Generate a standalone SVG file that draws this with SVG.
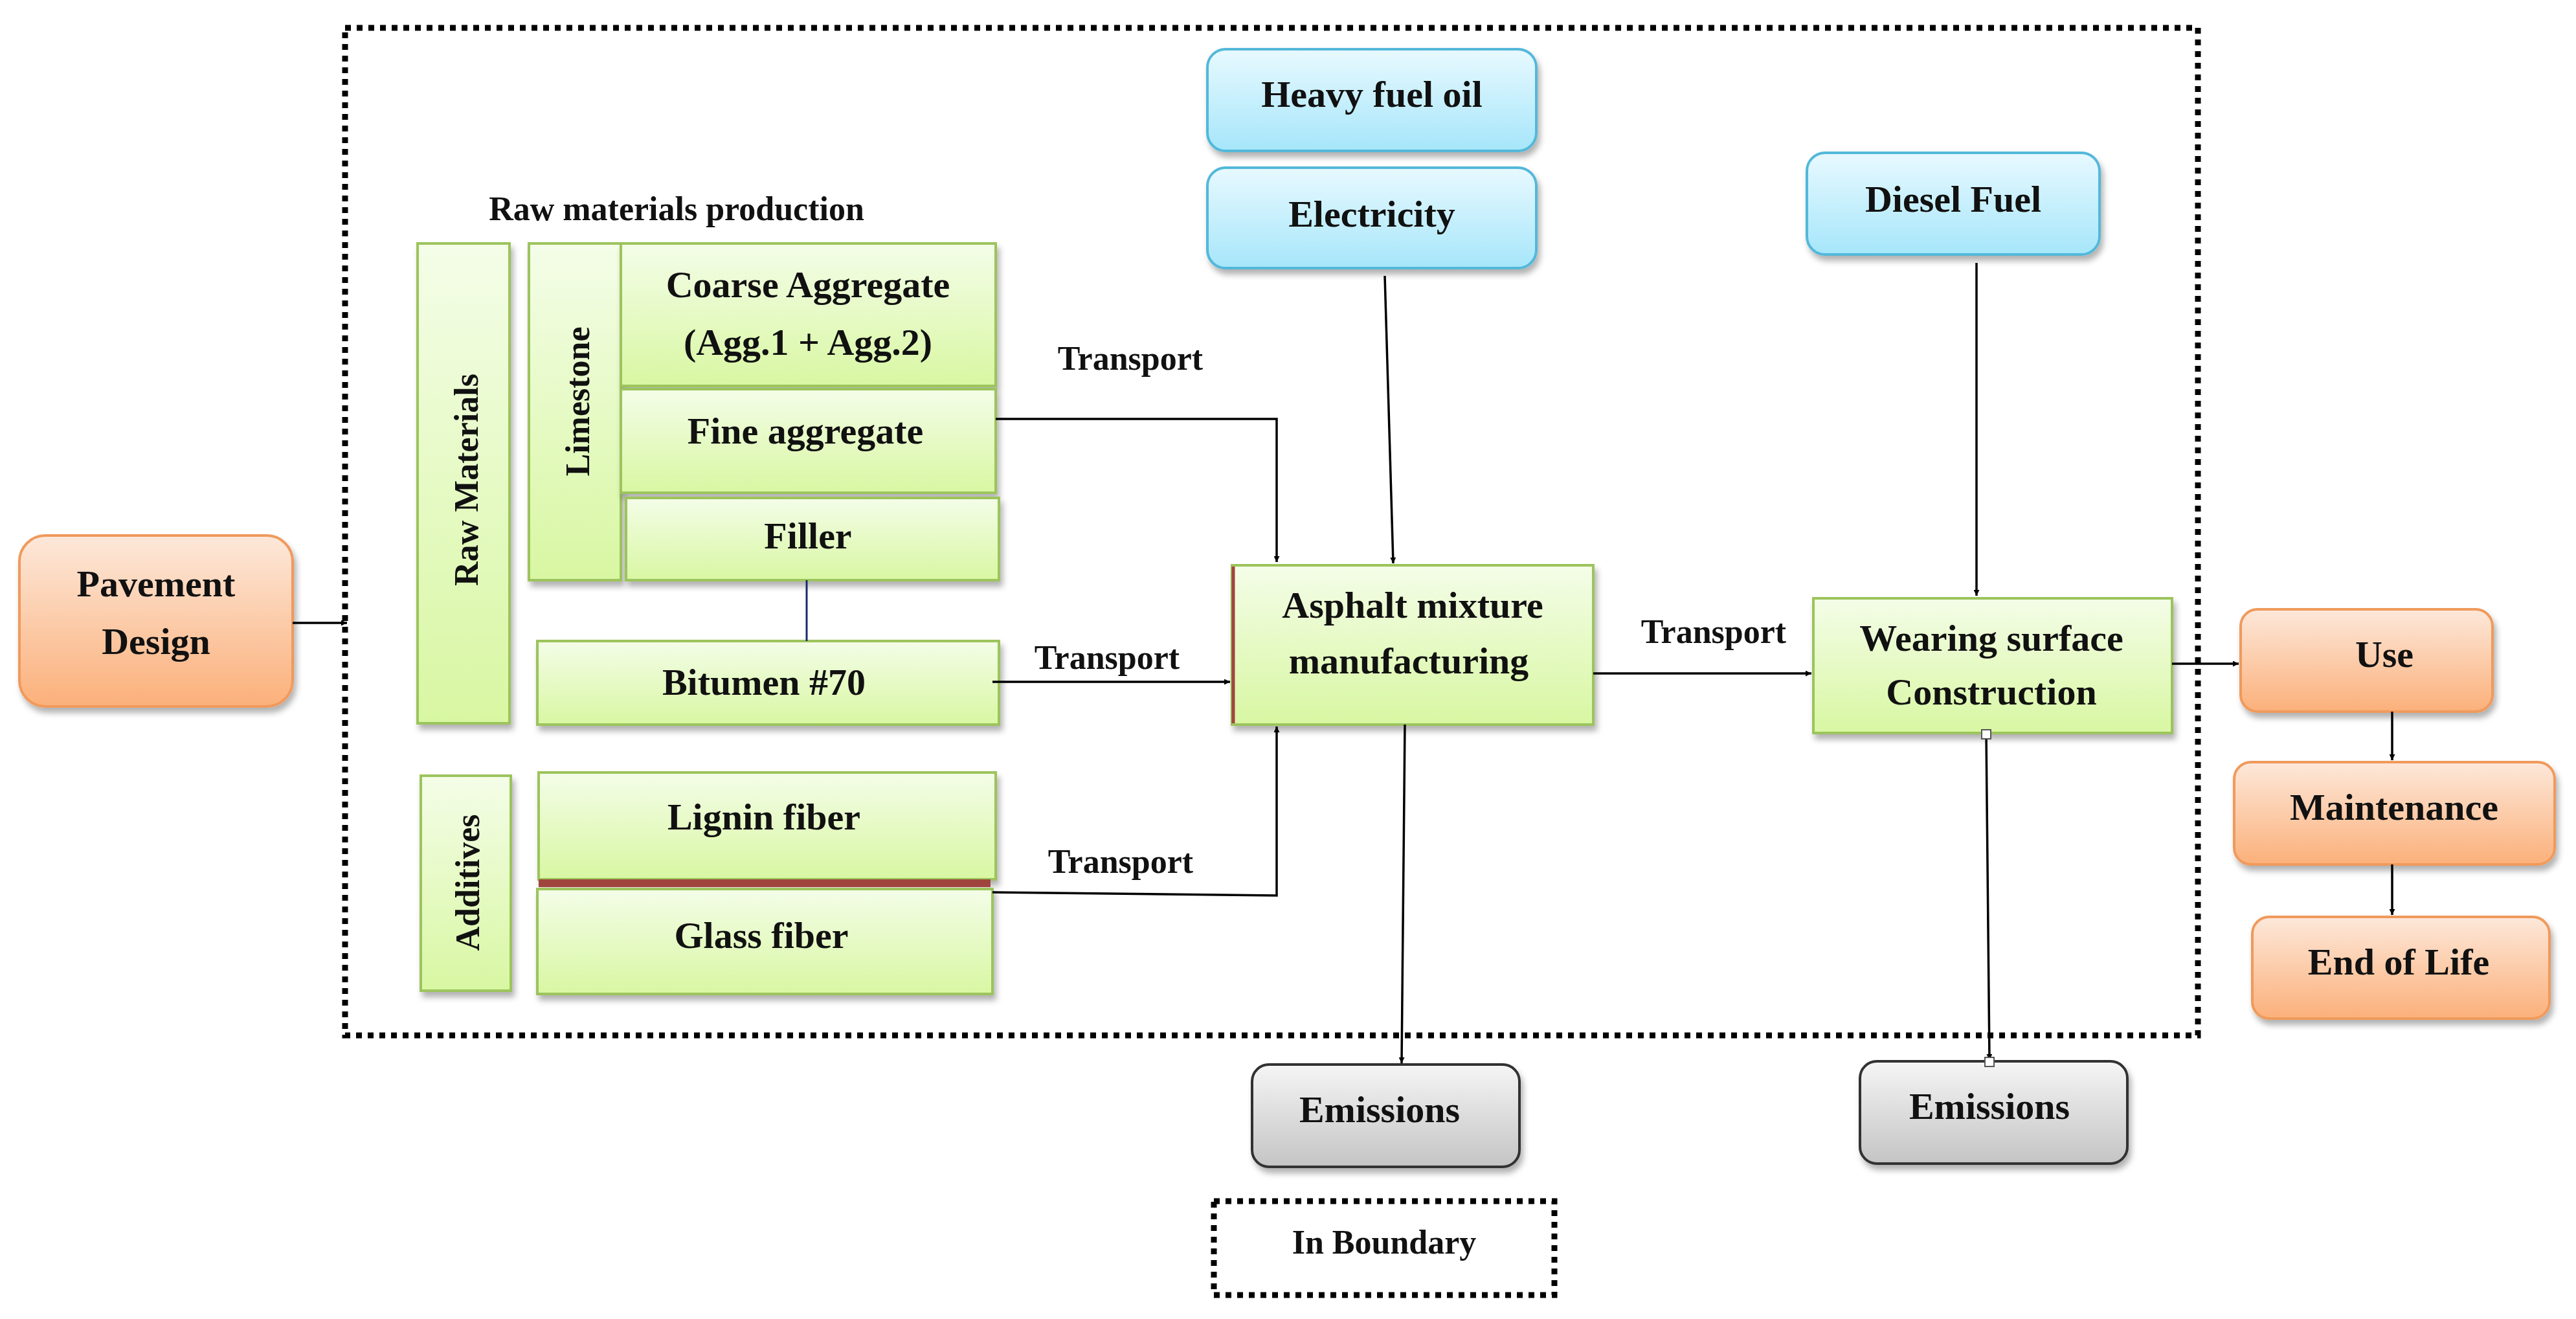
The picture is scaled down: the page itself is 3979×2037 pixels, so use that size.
<svg xmlns="http://www.w3.org/2000/svg" width="3979" height="2037" viewBox="0 0 3979 2037">
<defs>
<linearGradient id="gG" x1="0" y1="0" x2="0" y2="1"><stop offset="0" stop-color="#f4fde8"/><stop offset="1" stop-color="#d8f7a2"/></linearGradient>
<linearGradient id="gB" x1="0" y1="0" x2="0" y2="1"><stop offset="0" stop-color="#e8f9ff"/><stop offset="1" stop-color="#a6e6fa"/></linearGradient>
<linearGradient id="gO" x1="0" y1="0" x2="0" y2="1"><stop offset="0" stop-color="#fde8da"/><stop offset="1" stop-color="#fbb07a"/></linearGradient>
<linearGradient id="gY" x1="0" y1="0" x2="0" y2="1"><stop offset="0" stop-color="#f5f5f5"/><stop offset="1" stop-color="#c4c4c4"/></linearGradient>
<filter id="sh" x="-10%" y="-10%" width="130%" height="140%"><feDropShadow dx="4" dy="8" stdDeviation="5" flood-color="#000" flood-opacity="0.3"/></filter>
<marker id="ar" viewBox="0 0 10 10" refX="10" refY="5" markerWidth="9" markerHeight="9" markerUnits="userSpaceOnUse" orient="auto"><path d="M0,0L10,5L0,10z" fill="#000"/></marker>
</defs>
<style>
text{font-family:"Liberation Serif","Times New Roman",serif;font-weight:bold;fill:#111;text-anchor:middle;dominant-baseline:central}
.t{font-size:58px}.s{font-size:52px}
.g{fill:url(#gG);stroke:#9cc45c;stroke-width:4;filter:url(#sh)}
.b{fill:url(#gB);stroke:#52b8da;stroke-width:4;filter:url(#sh)}
.o{fill:url(#gO);stroke:#f09a5c;stroke-width:4;filter:url(#sh)}
.y{fill:url(#gY);stroke:#333;stroke-width:4;filter:url(#sh)}
.c{fill:none;stroke:#000;stroke-width:3.5}
.d{fill:none;stroke:#000;stroke-width:9;stroke-dasharray:9 9}
</style>
<rect class="d" x="533" y="43" width="2862" height="1556"/>
<g id="pavement"><rect class="o" x="30" y="827" width="422" height="264" rx="40"/><text class="t" x="241" y="901">Pavement</text><text class="t" x="241" y="990">Design</text></g>
<g id="heavy"><rect class="b" x="1865" y="76" width="508" height="157" rx="28"/><text class="t" x="2119" y="145">Heavy fuel oil</text></g>
<g id="electricity"><rect class="b" x="1865" y="259" width="508" height="155" rx="28"/><text class="t" x="2119" y="330">Electricity</text></g>
<g id="diesel"><rect class="b" x="2791" y="236" width="452" height="157" rx="28"/><text class="t" x="3017" y="307">Diesel Fuel</text></g>
<text class="s" x="1045" y="322">Raw materials production</text>
<g id="rawmat"><rect class="g" x="645" y="376" width="142" height="741"/><text class="s" transform="translate(720,741) rotate(-90)">Raw Materials</text></g>
<g id="limestone"><rect class="g" x="817" y="376" width="142" height="520"/><text class="s" transform="translate(892,620) rotate(-90)">Limestone</text></g>
<g id="coarse"><rect class="g" x="959" y="376" width="579" height="220"/><text class="t" x="1248" y="439">Coarse Aggregate</text><text class="t" x="1248" y="528">(Agg.1 + Agg.2)</text></g>
<g id="fine"><rect class="g" x="959" y="601" width="579" height="160"/><text class="t" x="1244" y="665">Fine aggregate</text></g>
<g id="filler"><rect class="g" x="967" y="769" width="576" height="127"/><text class="t" x="1248" y="827">Filler</text></g>
<g id="bitumen"><rect class="g" x="830" y="990" width="713" height="129"/><text class="t" x="1180" y="1053">Bitumen #70</text></g>
<g id="additives"><rect class="g" x="650" y="1198" width="139" height="332"/><text class="s" transform="translate(722,1363) rotate(-90)">Additives</text></g>
<g id="lignin"><rect class="g" x="832" y="1193" width="706" height="165"/><text class="t" x="1180" y="1261">Lignin fiber</text></g>
<rect x="832" y="1358" width="698" height="12" fill="#a0453e"/>
<g id="glass"><rect class="g" x="830" y="1373" width="703" height="162"/><text class="t" x="1176" y="1444">Glass fiber</text></g>
<g id="asphalt"><rect class="g" x="1903" y="873" width="558" height="246"/><line x1="1905" y1="875" x2="1905" y2="1117" stroke="#a0453e" stroke-width="5"/><text class="t" x="2182" y="934">Asphalt mixture</text><text class="t" x="2176" y="1020">manufacturing</text></g>
<g id="wearing"><rect class="g" x="2801" y="924" width="554" height="208"/><text class="t" x="3076" y="985">Wearing surface</text><text class="t" x="3076" y="1068">Construction</text></g>
<g id="use"><rect class="o" x="3461" y="941" width="389" height="158" rx="26"/><text class="t" x="3683" y="1010">Use</text></g>
<g id="maint"><rect class="o" x="3451" y="1177" width="495" height="158" rx="26"/><text class="t" x="3698" y="1246">Maintenance</text></g>
<g id="eol"><rect class="o" x="3479" y="1416" width="459" height="157" rx="26"/><text class="t" x="3705" y="1485">End of Life</text></g>
<g id="em1"><rect class="y" x="1934" y="1644" width="413" height="158" rx="26"/><text class="t" x="2131" y="1713">Emissions</text></g>
<g id="em2"><rect class="y" x="2873" y="1639" width="413" height="158" rx="26"/><text class="t" x="3073" y="1708">Emissions</text></g>
<g id="legend"><rect class="d" x="1875" y="1855" width="526" height="145"/><text class="s" x="2138" y="1918">In Boundary</text></g>
<g id="connectors">
<path class="c" d="M452,962H536" marker-end="url(#ar)"/>
<path class="c" d="M1538,647H1972V868" marker-end="url(#ar)"/>
<path class="c" d="M2139,426L2152,870" marker-end="url(#ar)"/>
<path class="c" d="M1533,1053H1900" marker-end="url(#ar)"/>
<path class="c" d="M1533,1378L1972,1383V1122" marker-end="url(#ar)"/>
<line x1="1246" y1="896" x2="1246" y2="990" stroke="#1a2a6a" stroke-width="3"/>
<path class="c" d="M2461,1040H2798" marker-end="url(#ar)"/>
<path class="c" d="M3053,406V920" marker-end="url(#ar)"/>
<path class="c" d="M3355,1025H3458" marker-end="url(#ar)"/>
<path class="c" d="M3695,1099V1174" marker-end="url(#ar)"/>
<path class="c" d="M3695,1335V1413" marker-end="url(#ar)"/>
<path class="c" d="M2170,1119L2165,1642" marker-end="url(#ar)"/>
<path class="c" d="M3068,1134L3073,1637" marker-end="url(#ar)"/>
<rect x="3061" y="1127" width="14" height="14" fill="#fff" stroke="#555" stroke-width="2"/>
<rect x="3066" y="1633" width="14" height="14" fill="#fff" stroke="#555" stroke-width="2"/>
<text class="s" x="1746" y="553">Transport</text>
<text class="s" x="1710" y="1015">Transport</text>
<text class="s" x="1731" y="1330">Transport</text>
<text class="s" x="2647" y="975">Transport</text>
</g>
</svg>
